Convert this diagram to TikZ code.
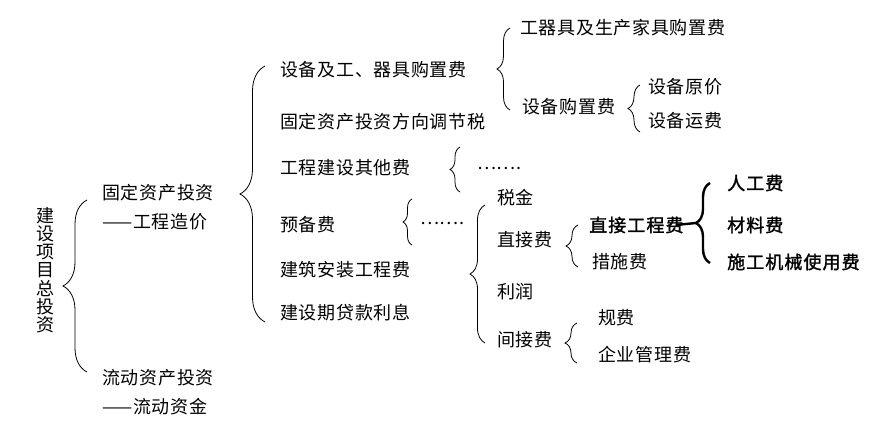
\documentclass[tikz,border=0pt]{standalone}
\usepackage{fontspec}
\usetikzlibrary{decorations.pathreplacing}
\newfontfamily\cjk[LetterSpace=4]{Noto Sans CJK SC}
\newfontfamily\cjkb[LetterSpace=6,FakeBold=1.5]{Noto Sans CJK SC}
\begin{document}
\begin{tikzpicture}[x=1pt,y=-1pt,
  lbl/.style={anchor=west,inner sep=0pt,font=\cjk\fontsize{18}{19}\selectfont},
  blbl/.style={anchor=west,inner sep=0pt,font=\cjkb\fontsize{18}{19}\selectfont},
  br/.style={decorate,decoration={brace,amplitude=#1},line width=0.8pt},
  thickbr/.style={decorate,decoration={brace,amplitude=#1},line width=2.4pt}]
\useasboundingbox (0,0) rectangle (888,436);
% root
\node[inner sep=0pt,align=center,font=\cjk\fontsize{18}{18.2}\selectfont] (root) at (45,270) {建\\设\\项\\目\\总\\投\\资};
% level 1
\node[lbl] (gd) at (102,193) {固定资产投资};
\node[lbl] (gdb) at (102,222) {——工程造价};
\node[lbl] (ld) at (102,378) {流动资产投资};
\node[lbl] (ldb) at (102,407) {——流动资金};
% level 2
\node[lbl] (sb) at (280,70) {设备及工、器具购置费};
\node[lbl] (tj) at (280,122) {固定资产投资方向调节税};
\node[lbl] (qt) at (280,168) {工程建设其他费};
\node[lbl] (yb) at (280,225) {预备费};
\node[lbl] (jz) at (280,270) {建筑安装工程费};
\node[lbl] (lx) at (280,313) {建设期贷款利息};
% level 3
\node[lbl] (gq) at (520,28) {工器具及生产家具购置费};
\node[lbl] (sbgz) at (522,107) {设备购置费};
\node[lbl] (yj) at (648,87) {设备原价};
\node[lbl] (yf) at (648,121) {设备运费};
\node[lbl] (d1) at (477,168) {…….};
\node[lbl] (d2) at (420,223) {…….};
\node[lbl] (sj) at (497,198) {税金};
\node[lbl] (zjf) at (497,240) {直接费};
\node[lbl] (lr) at (497,292) {利润};
\node[lbl] (jjf) at (497,340) {间接费};
\node[blbl] (zjgc) at (589,225) {直接工程费};
\node[lbl] (cs) at (592,262) {措施费};
\node[blbl] (rg) at (727,183) {人工费};
\node[blbl] (cl) at (727,225) {材料费};
\node[blbl] (jx) at (727,262) {施工机械使用费};
\node[lbl] (gf) at (598,318) {规费};
\node[lbl] (gl) at (598,355) {企业管理费};
% brace end coordinates
\coordinate (b1a) at (87,372);  \coordinate (b1b) at (87,200);
\coordinate (b2a) at (265,322); \coordinate (b2b) at (265,66);
\coordinate (b3a) at (510,110); \coordinate (b3b) at (510,28);
\coordinate (b4a) at (640,132); \coordinate (b4b) at (640,85);
\coordinate (b5a) at (460,192); \coordinate (b5b) at (460,147);
\coordinate (b6a) at (412,245); \coordinate (b6b) at (412,199);
\coordinate (b7a) at (485,343); \coordinate (b7b) at (485,205);
\coordinate (b8a) at (578,267); \coordinate (b8b) at (578,225);
\coordinate (b9a) at (710,263); \coordinate (b9b) at (710,183);
\coordinate (b10a) at (577,363); \coordinate (b10b) at (577,323);
\coordinate (b9tip) at (696,223);
% braces
\draw[br=24] (b1a) -- (b1b);
\draw[br=25] (b2a) -- (b2b);
\draw[br=13] (b3a) -- (b3b);
\draw[br=12] (b4a) -- (b4b);
\draw[br=10] (b5a) -- (b5b);
\draw[br=9] (b6a) -- (b6b);
\draw[br=15] (b7a) -- (b7b);
\draw[br=12] (b8a) -- (b8b);
\draw[thickbr=14] (b9a) -- (b9b);
\draw[br=12] (b10a) -- (b10b);
\draw[line width=2.4pt] ([xshift=-8pt]zjgc.east) -- (b9tip);
\end{tikzpicture}
\end{document}
